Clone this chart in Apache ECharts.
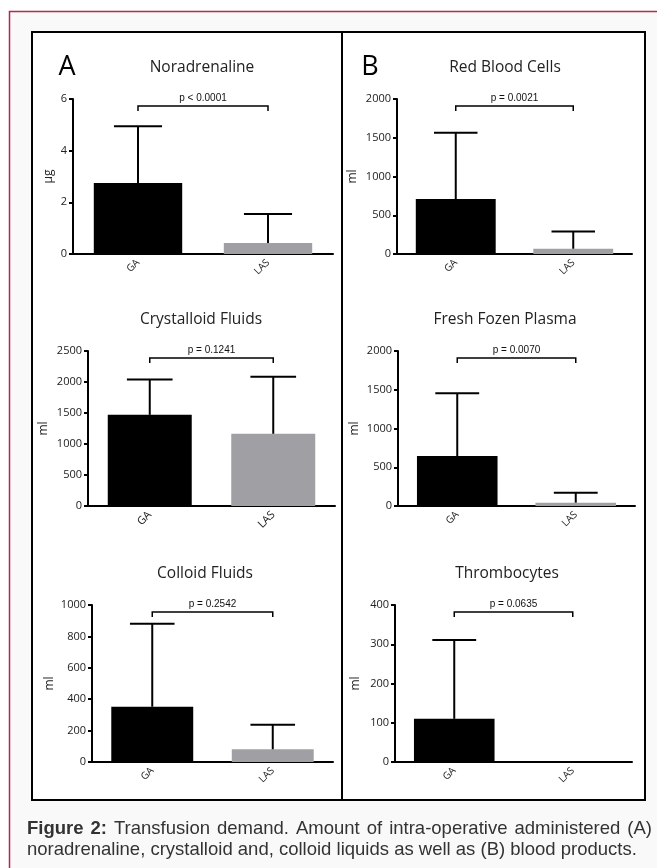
<!DOCTYPE html>
<html>
<head>
<meta charset="utf-8">
<script src="https://cdn.jsdelivr.net/npm/echarts@6/dist/echarts.min.js"></script>
<style>
  html, body { margin: 0; padding: 0; background: #fff; }
  #chart { width: 657px; height: 868px; }
</style>
</head>
<body>
<div id="chart"></div>
<script>
// panels in reading order: A top, B top, A middle, B middle, A bottom, B bottom
const panels = ['Noradrenaline', 'Red Blood Cells', 'Crystalloid Fluids', 'Fresh Fozen Plasma', 'Colloid Fluids', 'Thrombocytes']
const groups = ['GA', 'LAS']
const units = ['µg', 'ml', 'ml', 'ml', 'ml', 'ml']
const gaMean = [2.75, 710, 1470, 645, 352, 110]
const gaUpper = [4.95, 1565, 2040, 1455, 880, 311]
const lasMean = [0.43, 68, 1165, 43, 81, 0]
const lasUpper = [1.55, 290, 2085, 172, 238, 0]
const yMax = [6, 2000, 2500, 2000, 1000, 400]
const yStep = [2, 500, 500, 500, 200, 100]
const pLabels = ['p < 0.0001', 'p = 0.0021', 'p = 0.1241', 'p = 0.0070', 'p = 0.2542', 'p = 0.0635']
const captionLines = [
  'Figure 2: Transfusion demand. Amount of intra-operative administered (A)',
  'noradrenaline, crystalloid and, colloid liquids as well as (B) blood products.'
]

// plot areas [left, top, width, height]
const boxes = [
  [73, 99, 260, 155], [397, 99, 235, 155],
  [88, 351, 247, 155], [398, 351, 237, 155],
  [92, 605, 241, 157], [395, 605, 237, 157]
]
const titleX = [202, 505, 201, 505, 205, 507]
const nameGaps = [18, 38, 38, 37, 36, 33]

const FONT = '"Open Sans", "DejaVu Sans", sans-serif'
const CAP_FONT = '"Liberation Sans", Arial, sans-serif'
const CAP_SIZE = 18.5

function renderError(params, api) {
  let x = api.value(0)
  let lo = api.value(1)
  let hi = api.value(2)
  if (!(hi > lo)) return
  let p0 = api.coord([x, lo])
  let p1 = api.coord([x, hi])
  let half = api.size([1, 0])[0] * 0.185
  let st = { stroke: '#000', lineWidth: 2 }
  return {
    type: 'group',
    children: [
      { type: 'line', shape: { x1: p0[0], y1: p0[1], x2: p1[0], y2: p1[1] }, style: st },
      { type: 'line', shape: { x1: p1[0] - half, y1: p1[1], x2: p1[0] + half, y2: p1[1] }, style: st }
    ]
  }
}

function bracketRenderer(label) {
  return function (params, api) {
    let cs = params.coordSys
    let xa = api.coord([0, 0])[0]
    let xb = api.coord([1, 0])[0]
    let yb = cs.y + 7
    let st = { stroke: '#000', lineWidth: 1.5, fill: null }
    return {
      type: 'group',
      children: [
        { type: 'polyline', shape: { points: [[xa, yb + 5], [xa, yb], [xb, yb], [xb, yb + 5]] }, style: st },
        {
          type: 'text',
          style: {
            text: label, x: (xa + xb) / 2, y: yb - 3,
            align: 'center', verticalAlign: 'bottom',
            fill: '#111', font: '10px "Liberation Sans", Arial, sans-serif'
          }
        }
      ]
    }
  }
}

// caption: first line justified between 27 and 652, second line left aligned
function captionGraphics() {
  let ctx = document.createElement('canvas').getContext('2d')
  let out = []
  let words = captionLines[0].split(' ')
  let fonts = words.map(function (w, k) {
    return (k < 2 ? 'bold ' : '') + CAP_SIZE + 'px ' + CAP_FONT
  })
  let total = 0
  let widths = words.map(function (w, k) {
    ctx.font = fonts[k]
    let wd = ctx.measureText(w).width
    total += wd
    return wd
  })
  let gap = (652 - 27 - total) / (words.length - 1)
  let x = 27
  words.forEach(function (w, k) {
    out.push({ type: 'text', style: { text: w, x: x, y: 829, verticalAlign: 'middle',
      font: fonts[k], fill: '#333' } })
    x += widths[k] + gap
  })
  out.push({ type: 'text', style: { text: captionLines[1], x: 27, y: 850, verticalAlign: 'middle',
    font: CAP_SIZE + 'px ' + CAP_FONT, fill: '#333' } })
  return out
}

let grid = [], xAxis = [], yAxis = [], series = []
let graphic = [
  { type: 'rect', z: -10, silent: true, shape: { x: 9.5, y: 11.5, width: 700, height: 900 },
    style: { fill: '#faf9f9', stroke: '#b3294e', lineWidth: 1.5 } },
  { type: 'rect', z: -9, silent: true, shape: { x: 32, y: 32, width: 613, height: 768 },
    style: { fill: '#fff', stroke: '#000', lineWidth: 2 } },
  { type: 'line', z: -8, silent: true, shape: { x1: 342, y1: 32, x2: 342, y2: 800 },
    style: { stroke: '#000', lineWidth: 2 } },
  { type: 'text', style: { text: 'A', x: 67, y: 67, align: 'center', verticalAlign: 'middle',
    font: '27px ' + FONT, fill: '#000' } },
  { type: 'text', style: { text: 'B', x: 370, y: 67, align: 'center', verticalAlign: 'middle',
    font: '27px ' + FONT, fill: '#000' } }
].concat(captionGraphics())

panels.forEach(function (name, i) {
  let b = boxes[i]
  grid.push({ left: b[0], top: b[1], width: b[2], height: b[3] })
  graphic.push({ type: 'text', style: {
    text: name, x: titleX[i], y: b[1] - 31, align: 'center', verticalAlign: 'middle',
    font: '15.5px ' + FONT, fill: '#222' } })
  xAxis.push({
    type: 'category', gridIndex: i, data: groups,
    axisLine: { lineStyle: { color: '#000', width: 2 } },
    axisTick: { alignWithLabel: true, length: 5, lineStyle: { width: 2, color: '#000' } },
    axisLabel: { rotate: 45, margin: 7, fontSize: i === 2 ? 11 : 10, fontFamily: FONT, color: '#222' }
  })
  yAxis.push({
    type: 'value', gridIndex: i, min: 0, max: yMax[i], interval: yStep[i],
    name: units[i], nameLocation: 'middle', nameGap: nameGaps[i],
    nameTextStyle: { fontSize: 12, fontFamily: FONT, color: '#222' },
    axisLine: { show: true, lineStyle: { color: '#000', width: 2 } },
    axisTick: { show: true, length: 4, lineStyle: { width: 2, color: '#000' } },
    axisLabel: { margin: 6, fontSize: 11, fontFamily: FONT, color: '#222',
      formatter: function (v) { return String(v) } },
    splitLine: { show: false }
  })
  series.push({
    type: 'bar', xAxisIndex: i, yAxisIndex: i, barWidth: '68%',
    data: [
      { value: gaMean[i], itemStyle: { color: '#000' } },
      { value: lasMean[i], itemStyle: { color: '#a0a0a4' } }
    ]
  })
  series.push({
    type: 'custom', xAxisIndex: i, yAxisIndex: i, z: 3,
    renderItem: renderError,
    data: [[0, gaMean[i], gaUpper[i]], [1, lasMean[i], lasUpper[i]]]
  })
  series.push({
    type: 'custom', xAxisIndex: i, yAxisIndex: i, z: 3,
    renderItem: bracketRenderer(pLabels[i]),
    data: [[0, 0]]
  })
})

let chart = echarts.init(document.getElementById('chart'))
chart.setOption({
  animation: false,
  backgroundColor: '#fff',
  grid: grid,
  xAxis: xAxis,
  yAxis: yAxis,
  series: series,
  graphic: graphic
})
</script>
</body>
</html>
